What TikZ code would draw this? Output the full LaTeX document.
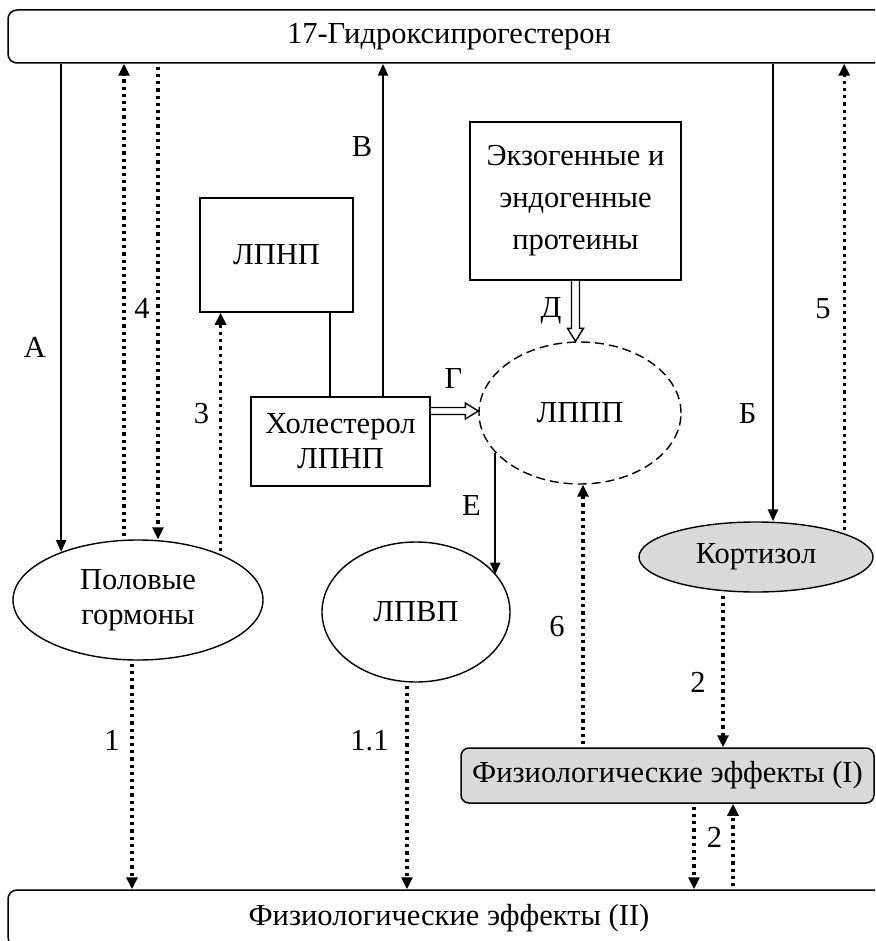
\documentclass[tikz,border=0pt]{standalone}
\usepackage{fontspec}
\setmainfont{Liberation Serif}
\usetikzlibrary{arrows.meta,shapes.geometric,calc}
\begin{document}
\begin{tikzpicture}[x=1pt,y=-1pt,
  font=\fontsize{30.5}{35}\selectfont,
  box/.style={draw, line width=1.5pt, inner sep=0pt, align=center},
  rbox/.style={box, rounded corners=9pt},
  ell/.style={draw, ellipse, line width=1.4pt, inner sep=0pt, align=center},
  solidarr/.style={line width=2.4pt, -{Triangle[length=12pt,width=10pt]}},
  dotline/.style={line width=3.2pt, dash pattern=on 3.2pt off 4pt, shorten <=3pt},
  dotarr/.style={dotline, -{Triangle[length=12pt,width=11pt]}},
  hollow/.style={line width=1.4pt, fill=white},
  lbl/.style={inner sep=0pt, anchor=base}]
\useasboundingbox (0,0) rectangle (875,941);
\clip (0,0) rectangle (875,941);

% nodes
\node[rbox, minimum width=882pt, minimum height=53pt] (top) at (449,36.5) {17-Гидроксипрогестерон};
\node[rbox, minimum width=882pt, minimum height=56pt] (bot) at (449,918) {Физиологические эффекты (II)};
\node[box, minimum width=153pt, minimum height=114pt] (ldl) at (276.5,255) {ЛПНП};
\node[box, minimum width=179pt, minimum height=89pt] (hol) at (340.5,441.5) {Холестерол\\ЛПНП};
\node[box, minimum width=211pt, minimum height=158pt, font=\fontsize{30.5}{42}\selectfont] (ekz) at (575.5,201) {Экзогенные и\\эндогенные\\протеины};
\node[ell, dash pattern=on 9pt off 5pt, minimum width=202pt, minimum height=142pt] (lppp) at (580,413) {ЛППП};
\node[ell, minimum width=250pt, minimum height=120pt] (polo) at (138,600) {Половые\\гормоны};
\node[ell, minimum width=188pt, minimum height=140pt] (lpvp) at (416,612) {ЛПВП};
\node[ell, fill=gray!30, minimum width=234pt, minimum height=70pt] (kort) at (756,557) {Кортизол};
\node[rbox, fill=gray!30, rounded corners=8pt, minimum width=413pt, minimum height=55pt] (fiz1) at (667.5,775.5) {Физиологические эффекты (I)};

% x positions
\coordinate (x4u) at (124,0);
\coordinate (x4d) at (158,0);
\coordinate (xL) at (330,0);
\coordinate (xB) at (383,0);
\coordinate (xBb) at (773,0);
\coordinate (x6) at (583,0);
\coordinate (x2) at (723,0);
\coordinate (x1) at (132,0);
\coordinate (x11) at (407,0);
\coordinate (x2d) at (694,0);
\coordinate (x2u) at (733,0);
\coordinate (gy) at (0,411);

% solid connectors
\draw[solidarr] (top.south -| polo.148) -- (polo.148);
\draw[solidarr] (xB |- hol.north) -- (xB |- top.south);
\draw[line width=1.5pt] (xL |- ldl.south) -- (xL |- hol.north);
\draw[solidarr] (lppp.205) -- (lppp.205 |- lpvp.25);
\draw[solidarr] (top.south -| xBb) -- (xBb |- kort.north);

% dotted connectors
\draw[dotarr] (x4u |- polo.north) -- (x4u |- top.south);
\draw[dotarr] (top.south -| x4d) -- (x4d |- polo.north);
\draw[dotarr] (polo.29) -- (polo.29 |- ldl.south);
\draw[dotarr] (kort.15) -- (kort.15 |- top.south);
\draw[dotarr] (fiz1.north -| x6) -- (x6 |- lppp.south);
\draw[dotarr] (x2 |- kort.south) -- (x2 |- fiz1.north);
\draw[dotarr] (x1 |- polo.south) -- (x1 |- bot.north);
\draw[dotarr] (x11 |- lpvp.south) -- (x11 |- bot.north);
\draw[dotarr] (x2d |- fiz1.south) -- (x2d |- bot.north);
\draw[dotarr] (x2u |- bot.north) -- (x2u |- fiz1.south);

% hollow arrows
\coordinate (g1) at (hol.east |- gy);
\coordinate (g2) at (lppp.west |- gy);
\draw[hollow] ($(g1)+(0,-3.5)$) -- ($(g2)+(-13,-3.5)$) -- ($(g2)+(-13,-8)$) -- (g2)
  -- ($(g2)+(-13,8)$) -- ($(g2)+(-13,3.5)$) -- ($(g1)+(0,3.5)$);
\coordinate (d1) at (ekz.south);
\coordinate (d2) at (ekz.south |- lppp.north);
\draw[hollow] ($(d1)+(-4,0)$) -- ($(d2)+(-4,-13)$) -- ($(d2)+(-8,-13)$) -- (d2)
  -- ($(d2)+(8,-13)$) -- ($(d2)+(4,-13)$) -- ($(d1)+(4,0)$);

% labels
\node[lbl] (lA) at (35,357) {А};
\node[lbl] (l4) at (142,318) {4};
\node[lbl] (l3) at (201.5,423) {3};
\node[lbl] (lV) at (362,157) {В};
\node[lbl] (lG) at (453.5,388) {Г};
\node[lbl] (lD) at (551,317) {Д};
\node[lbl] (lE) at (471.5,515) {Е};
\node[lbl] (lB) at (747.5,423) {Б};
\node[lbl] (l5) at (823,318) {5};
\node[lbl] (l6) at (557,636) {6};
\node[lbl] (l2a) at (698,692) {2};
\node[lbl] (l1) at (112,750) {1};
\node[lbl] (l11) at (369.5,750) {1.1};
\node[lbl] (l2b) at (714.5,847) {2};
\end{tikzpicture}
\end{document}
